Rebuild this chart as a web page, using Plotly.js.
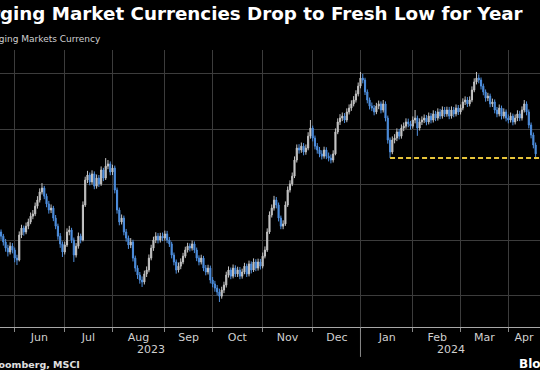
<!DOCTYPE html>
<html><head><meta charset="utf-8">
<script src="https://cdn.plot.ly/plotly-3.0.1.min.js"></script>
<style>html,body{margin:0;padding:0;background:#000;} #chart{width:540px;height:370px;}</style>
</head><body><div id="chart"></div>
<script>
// Trading days (weekdays) shown in the chart
const firstDate = '2023-05-23';
const lastDate = '2024-04-17';

// MSCI Emerging Markets Currency Index, daily OHLC
const openVals = [
1644.0,1643.0,1641.5,1639.4,1637.2,1635.8,1637.9,1636.5,1633.6,1632.9,
1641.9,1644.4,1643.0,1645.1,1646.6,1648.7,1649.5,1652.3,1654.5,1657.4,
1658.8,1655.9,1653.1,1650.9,1651.6,1648.0,1645.1,1641.5,1638.7,1635.8,
1638.3,1643.0,1643.7,1640.1,1634.7,1637.9,1641.5,1640.1,1652.7,1661.7,
1663.5,1661.0,1663.9,1659.5,1662.4,1660.3,1665.3,1662.4,1666.7,1667.5,
1664.6,1666.0,1658.1,1650.9,1646.6,1648.0,1643.0,1640.8,1638.3,1639.4,
1633.6,1630.0,1627.5,1625.7,1625.0,1627.9,1629.3,1633.6,1637.2,1640.1,
1641.5,1640.1,1641.5,1640.8,1642.3,1640.1,1638.7,1634.7,1632.2,1629.3,
1630.7,1632.2,1634.3,1636.5,1637.9,1637.2,1638.7,1636.5,1633.6,1632.2,
1633.6,1630.0,1628.6,1630.0,1625.7,1624.3,1622.8,1621.4,1619.9,1622.1,
1623.9,1627.5,1629.3,1627.1,1630.0,1627.9,1629.3,1627.1,1628.6,1630.7,
1627.9,1631.5,1629.3,1632.2,1630.0,1632.2,1630.7,1634.3,1636.5,1643.0,
1649.1,1651.6,1654.5,1652.7,1648.0,1645.1,1645.9,1652.7,1658.1,1660.3,
1663.1,1668.9,1673.2,1672.5,1673.9,1671.8,1673.2,1677.5,1680.4,1676.8,
1673.9,1672.5,1671.1,1670.3,1672.5,1670.3,1669.6,1668.9,1671.1,1679.0,
1682.6,1684.0,1684.7,1683.3,1686.2,1687.6,1689.1,1690.5,1692.7,1695.5,
1698.4,1697.7,1693.4,1690.5,1688.3,1687.6,1686.2,1688.3,1689.1,1686.9,
1689.1,1684.0,1676.1,1671.8,1676.1,1676.8,1679.0,1677.5,1680.4,1681.1,
1682.6,1681.9,1681.1,1683.3,1684.0,1680.4,1682.6,1683.3,1684.0,1682.6,
1684.7,1683.3,1685.5,1684.0,1686.2,1684.7,1686.9,1685.5,1686.9,1684.7,
1686.9,1685.5,1687.6,1686.2,1687.6,1689.8,1690.5,1689.1,1690.5,1694.1,
1697.0,1698.4,1697.7,1695.5,1693.4,1691.2,1691.9,1689.1,1689.8,1686.9,
1685.5,1687.6,1684.7,1686.2,1684.0,1683.3,1684.7,1682.6,1684.0,1685.5,
1684.0,1686.9,1689.1,1686.2,1681.5,1677.9,1674.3];
const highVals = [
1645.2,1643.9,1642.3,1640.5,1638.4,1639.3,1639.0,1637.4,1634.8,1643.2,
1645.6,1645.3,1646.4,1647.8,1650.0,1650.9,1653.6,1655.9,1658.7,1660.6,
1659.6,1656.8,1654.2,1652.9,1652.4,1649.1,1646.0,1642.6,1639.6,1639.5,
1644.3,1645.2,1644.5,1641.0,1639.0,1642.8,1642.4,1654.0,1662.9,1665.0,
1664.4,1665.2,1664.8,1663.7,1663.5,1666.6,1666.1,1669.6,1668.9,1668.4,
1667.2,1666.9,1659.0,1651.8,1649.3,1648.9,1644.1,1641.7,1640.8,1640.2,
1634.5,1631.0,1628.6,1627.0,1629.1,1630.6,1634.9,1638.4,1641.3,1642.9,
1642.6,1642.7,1642.8,1643.5,1643.4,1641.2,1639.5,1635.6,1633.1,1632.0,
1633.5,1635.5,1637.7,1639.1,1638.9,1639.9,1639.6,1637.4,1634.6,1634.8,
1634.4,1631.1,1631.2,1630.9,1626.8,1625.4,1623.9,1622.6,1623.3,1625.1,
1628.7,1630.6,1630.2,1631.3,1631.0,1630.5,1630.4,1629.8,1631.9,1631.6,
1632.7,1632.4,1633.5,1633.2,1633.4,1633.3,1635.6,1637.8,1644.3,1650.4,
1652.9,1656.0,1655.6,1653.6,1648.9,1647.2,1654.0,1659.4,1661.6,1664.4,
1670.2,1674.5,1674.6,1675.2,1675.0,1674.5,1678.9,1683.3,1681.3,1677.7,
1675.0,1673.6,1672.4,1673.7,1673.5,1671.6,1670.9,1672.4,1680.3,1683.9,
1685.4,1686.0,1685.8,1687.5,1688.9,1690.4,1691.9,1694.0,1696.8,1700.6,
1699.9,1698.5,1694.3,1691.4,1689.6,1688.7,1689.5,1690.3,1690.0,1690.5,
1690.0,1684.9,1677.0,1677.4,1678.2,1680.3,1680.1,1681.7,1682.4,1683.9,
1683.8,1683.0,1684.6,1686.9,1684.9,1683.9,1684.6,1685.3,1685.1,1686.0,
1685.8,1686.8,1686.6,1687.5,1687.3,1688.2,1688.0,1688.1,1688.0,1688.2,
1688.0,1688.9,1688.7,1688.9,1691.1,1691.8,1691.6,1691.8,1695.4,1698.3,
1700.6,1699.7,1698.6,1696.4,1694.3,1693.1,1692.8,1691.0,1690.7,1688.0,
1688.9,1688.5,1687.5,1687.1,1685.3,1686.0,1685.6,1685.3,1686.8,1686.6,
1688.2,1690.5,1690.0,1687.1,1682.4,1678.8,1675.2];
const lowVals = [
1641.8,1640.2,1638.1,1635.9,1634.2,1634.9,1635.3,1632.1,1631.1,1632.4,
1640.8,1641.7,1642.2,1644.0,1645.8,1647.6,1648.7,1651.4,1653.6,1656.5,
1654.8,1651.9,1649.6,1649.8,1646.9,1644.0,1640.2,1637.3,1634.0,1634.9,
1637.6,1641.8,1639.0,1632.2,1633.8,1637.0,1638.9,1639.6,1652.0,1660.6,
1659.8,1660.1,1658.4,1658.6,1659.2,1659.6,1661.3,1661.7,1665.6,1663.4,
1663.5,1656.9,1649.6,1645.4,1645.7,1641.8,1639.5,1636.9,1637.2,1632.4,
1628.7,1626.1,1624.4,1623.2,1624.1,1626.8,1628.5,1632.8,1636.2,1639.0,
1638.9,1639.2,1639.7,1639.9,1639.0,1637.6,1633.5,1631.0,1628.0,1628.4,
1629.6,1631.4,1633.6,1635.6,1636.0,1636.3,1635.4,1632.5,1631.0,1631.3,
1628.9,1627.4,1627.7,1624.5,1623.1,1621.5,1620.2,1617.8,1619.0,1621.0,
1623.0,1626.6,1626.0,1626.3,1626.8,1626.8,1626.0,1626.2,1627.8,1626.8,
1627.0,1628.1,1628.6,1628.9,1629.1,1629.5,1629.9,1633.5,1635.8,1642.3,
1648.2,1650.7,1651.5,1646.8,1644.0,1644.0,1645.2,1652.0,1657.2,1659.5,
1662.4,1668.0,1671.2,1671.5,1670.6,1670.8,1672.4,1676.6,1675.6,1672.7,
1671.2,1669.9,1669.1,1669.4,1669.2,1668.4,1667.7,1668.0,1670.6,1678.2,
1681.5,1682.9,1682.2,1682.5,1685.3,1686.6,1688.2,1689.6,1691.8,1694.7,
1696.5,1692.3,1689.3,1687.1,1686.5,1685.0,1685.4,1687.2,1685.7,1686.0,
1682.8,1674.8,1669.6,1671.0,1674.9,1675.7,1676.3,1676.6,1679.3,1680.2,
1680.7,1679.9,1680.2,1682.1,1677.6,1679.5,1681.5,1682.2,1681.4,1681.7,
1682.1,1682.4,1682.9,1683.1,1683.6,1683.8,1684.4,1684.5,1683.6,1683.8,
1684.3,1684.6,1685.1,1685.3,1686.8,1688.7,1688.0,1688.2,1689.7,1693.3,
1696.1,1696.5,1694.3,1692.2,1689.9,1690.1,1687.9,1688.0,1685.7,1684.3,
1684.6,1683.5,1683.8,1682.8,1682.1,1682.4,1681.4,1681.7,1682.9,1682.9,
1683.1,1686.0,1685.0,1680.3,1676.7,1673.1,1669.2];
const closeVals = [
1643.0,1641.5,1639.4,1637.2,1635.8,1637.9,1636.5,1633.6,1632.9,1641.9,
1644.4,1643.0,1645.1,1646.6,1648.7,1649.5,1652.3,1654.5,1657.4,1658.8,
1655.9,1653.1,1650.9,1651.6,1648.0,1645.1,1641.5,1638.7,1635.8,1638.3,
1643.0,1643.7,1640.1,1634.7,1637.9,1641.5,1640.1,1652.7,1661.7,1663.5,
1661.0,1663.9,1659.5,1662.4,1660.3,1665.3,1662.4,1666.7,1667.5,1664.6,
1666.0,1658.1,1650.9,1646.6,1648.0,1643.0,1640.8,1638.3,1639.4,1633.6,
1630.0,1627.5,1625.7,1625.0,1627.9,1629.3,1633.6,1637.2,1640.1,1641.5,
1640.1,1641.5,1640.8,1642.3,1640.1,1638.7,1634.7,1632.2,1629.3,1630.7,
1632.2,1634.3,1636.5,1637.9,1637.2,1638.7,1636.5,1633.6,1632.2,1633.6,
1630.0,1628.6,1630.0,1625.7,1624.3,1622.8,1621.4,1619.9,1622.1,1623.9,
1627.5,1629.3,1627.1,1630.0,1627.9,1629.3,1627.1,1628.6,1630.7,1627.9,
1631.5,1629.3,1632.2,1630.0,1632.2,1630.7,1634.3,1636.5,1643.0,1649.1,
1651.6,1654.5,1652.7,1648.0,1645.1,1645.9,1652.7,1658.1,1660.3,1663.1,
1668.9,1673.2,1672.5,1673.9,1671.8,1673.2,1677.5,1680.4,1676.8,1673.9,
1672.5,1671.1,1670.3,1672.5,1670.3,1669.6,1668.9,1671.1,1679.0,1682.6,
1684.0,1684.7,1683.3,1686.2,1687.6,1689.1,1690.5,1692.7,1695.5,1698.4,
1697.7,1693.4,1690.5,1688.3,1687.6,1686.2,1688.3,1689.1,1686.9,1689.1,
1684.0,1676.1,1671.8,1676.1,1676.8,1679.0,1677.5,1680.4,1681.1,1682.6,
1681.9,1681.1,1683.3,1684.0,1680.4,1682.6,1683.3,1684.0,1682.6,1684.7,
1683.3,1685.5,1684.0,1686.2,1684.7,1686.9,1685.5,1686.9,1684.7,1686.9,
1685.5,1687.6,1686.2,1687.6,1689.8,1690.5,1689.1,1690.5,1694.1,1697.0,
1698.4,1697.7,1695.5,1693.4,1691.2,1691.9,1689.1,1689.8,1686.9,1685.5,
1687.6,1684.7,1686.2,1684.0,1683.3,1684.7,1682.6,1684.0,1685.5,1684.0,
1686.9,1689.1,1686.2,1681.5,1677.9,1674.3,1671.1];

// Previous low of the year (dashed reference line starts here)
const prevLowDate = '2024-01-18';

// Axis labels
const monthLabels = ['Jun','Jul','Aug','Sep','Oct','Nov','Dec','Jan','Feb','Mar','Apr'];
const monthLabelDates = ['2023-06-15 21:00','2023-07-17 09:00','2023-08-16 11:00','2023-09-15 11:00',
  '2023-10-16 21:00','2023-11-15 22:00','2023-12-15 16:00','2024-01-16 18:00','2024-02-15 17:00',
  '2024-03-15 12:00','2024-04-09 22:00'];
const monthStarts = ['2023-06-01','2023-07-03','2023-08-01','2023-09-01','2023-10-02','2023-11-01',
  '2023-12-01','2024-01-01','2024-02-01','2024-03-01','2024-04-01'];
const yearLabels = ['2023','2024'];
const yearLabelDates = ['2023-08-24 00:00','2024-02-23 20:00'];
const yearBreakDate = '2024-01-01';

function weekdays(a, b) {
  const out = [];
  const d = new Date(a + 'T00:00:00Z');
  const e = new Date(b + 'T00:00:00Z');
  while (d <= e) {
    const w = d.getUTCDay();
    if (w !== 0 && w !== 6) out.push(d.toISOString().slice(0, 10));
    d.setUTCDate(d.getUTCDate() + 1);
  }
  return out;
}
const dates = weekdays(firstDate, lastDate);
const prevLow = lowVals[dates.indexOf(prevLowDate)];

const xRange = ['2023-05-23 13:00', '2024-04-18 22:00'];
const gridColor = '#3c3c3c';
const font = 'DejaVu Sans, Arial, sans-serif';

const trace = {
  type: 'candlestick',
  x: dates, open: openVals, high: highVals, low: lowVals, close: closeVals,
  increasing: {line: {color: '#c4c4c4', width: 1}, fillcolor: '#c4c4c4'},
  decreasing: {line: {color: '#4e8fdf', width: 1}, fillcolor: '#4e8fdf'},
  hoverinfo: 'skip', showlegend: false
};

const annotations = [
  {text: '<b>Emerging Market Currencies Drop to Fresh Low for Year</b>', xref: 'paper', yref: 'paper',
   x: 0.973, y: 1.132, xanchor: 'right', yanchor: 'middle', showarrow: false,
   font: {family: font, size: 18.3, color: '#ffffff'}},
  {text: 'MSCI Emerging Markets Currency', xref: 'paper', yref: 'paper',
   x: 0.19, y: 1.04, xanchor: 'right', yanchor: 'middle', showarrow: false,
   font: {family: font, size: 9, color: '#d0d0d0'}},
  {text: '<b>Source: Bloomberg, MSCI</b>', xref: 'paper', yref: 'paper',
   x: 0.152, y: -0.134, xanchor: 'right', yanchor: 'middle', showarrow: false,
   font: {family: font, size: 9.5, color: '#e0e0e0'}},
  {text: '<b>Bloomberg</b>', xref: 'paper', yref: 'paper',
   x: 0.958, y: -0.134, xanchor: 'left', yanchor: 'middle', showarrow: false,
   font: {family: font, size: 12, color: '#ffffff'}}
];
yearLabels.forEach((t, i) => annotations.push({
  text: t, xref: 'x', yref: 'paper', x: yearLabelDates[i], y: -0.083,
  xanchor: 'center', yanchor: 'middle', showarrow: false,
  font: {family: font, size: 11, color: '#d0d0d0'}
}));

const layout = {
  width: 540, height: 370,
  margin: {l: 0, r: 0, t: 50, b: 43, pad: 0},
  paper_bgcolor: '#000000', plot_bgcolor: '#000000',
  showlegend: false,
  xaxis: {
    type: 'date', range: xRange, rangeslider: {visible: false},
    rangebreaks: [{bounds: ['sat', 'mon']}],
    tickmode: 'array', tickvals: monthLabelDates, ticktext: monthLabels,
    ticks: '', showgrid: false, zeroline: false,
    showline: true, linecolor: '#a8a8a8', linewidth: 1,
    tickfont: {family: font, size: 11, color: '#d0d0d0'},
    minor: {tickmode: 'array', tickvals: monthStarts, ticks: 'outside', ticklen: 4,
            tickcolor: '#888888', tickwidth: 1, showgrid: true, gridcolor: gridColor, gridwidth: 1},
    fixedrange: true
  },
  yaxis: {
    range: [1608.8, 1708.5], tickmode: 'linear', tick0: 1620, dtick: 20,
    showticklabels: false, showgrid: true, gridcolor: gridColor, gridwidth: 1,
    zeroline: false, ticks: '', fixedrange: true
  },
  shapes: [
    {type: 'line', xref: 'x', yref: 'y', x0: prevLowDate, x1: xRange[1], y0: prevLow, y1: prevLow,
     line: {color: '#e8c53a', width: 2, dash: '5px,3px'}},
    {type: 'line', xref: 'x', yref: 'paper', x0: yearBreakDate, x1: yearBreakDate, y0: 0, y1: -0.108,
     line: {color: '#888888', width: 1}}
  ],
  annotations: annotations
};

Plotly.newPlot('chart', [trace], layout, {displayModeBar: false, staticPlot: true});
</script>
</body></html>
